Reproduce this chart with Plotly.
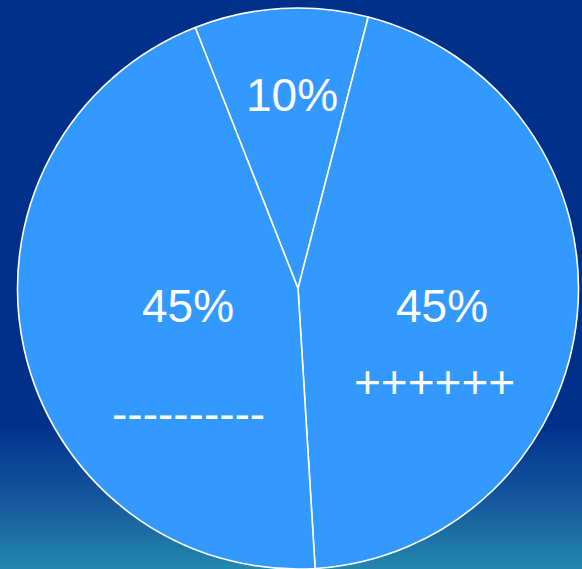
import plotly.graph_objects as go

# Data
slice_labels = ["Top", "Right", "Left"]
slice_values = [10, 45, 45]
pct_labels = ["10%", "45%", "45%"]
extra_labels = ["", "++++++", "----------"]

W, H = 582, 569
navy = "#00308A"
teal = "#2388AC"
slice_color = "#3399FF"

fig = go.Figure()

# gradient background
fig.add_trace(go.Scatter(
    x=[0, 1, 1, 0, 0], y=[0, 0, 1, 1, 0], mode="lines",
    line=dict(width=0), fill="toself",
    fillgradient=dict(type="vertical", start=0, stop=1,
                      colorscale=[[0, teal], [0.12, "#16579C"], [0.26, navy], [1, navy]]),
    hoverinfo="skip", showlegend=False,
))

cx, cy, r = 298, 288.5, 280.5
fig.add_trace(go.Pie(
    labels=slice_labels, values=slice_values, sort=False,
    direction="clockwise", rotation=-21.5,
    marker=dict(colors=[slice_color] * 3, line=dict(color="white", width=1.6)),
    textinfo="none", hoverinfo="skip", showlegend=False,
    domain=dict(x=[(cx - r) / W, (cx + r) / W],
                y=[max(0, 1 - (cy + r) / H), min(1, 1 - (cy - r) / H)]),
))

def px(x, y):
    return x / W, 1 - y / H

font = dict(family="Arial, Liberation Sans, sans-serif", size=46, color="white")
pct_pos = [(292, 95), (442, 306), (188, 306)]
extra_pos = [None, (434, 382), (188, 414)]
ann = []
for t, p in zip(pct_labels, pct_pos):
    x, y = px(*p)
    ann.append(dict(text=t, x=x, y=y, xref="paper", yref="paper", showarrow=False,
                    xanchor="center", yanchor="middle", font=font))
for t, p in zip(extra_labels, extra_pos):
    if p is None:
        continue
    x, y = px(*p)
    ann.append(dict(text=t, x=x, y=y, xref="paper", yref="paper", showarrow=False,
                    xanchor="center", yanchor="middle", font=font))

fig.update_layout(
    width=W, height=H, margin=dict(l=0, r=0, t=0, b=0),
    paper_bgcolor=navy, plot_bgcolor=navy,
    xaxis=dict(visible=False, range=[0, 1], fixedrange=True),
    yaxis=dict(visible=False, range=[0, 1], fixedrange=True),
    annotations=ann,
)

fig.write_html("out.html", config={"displayModeBar": False})
